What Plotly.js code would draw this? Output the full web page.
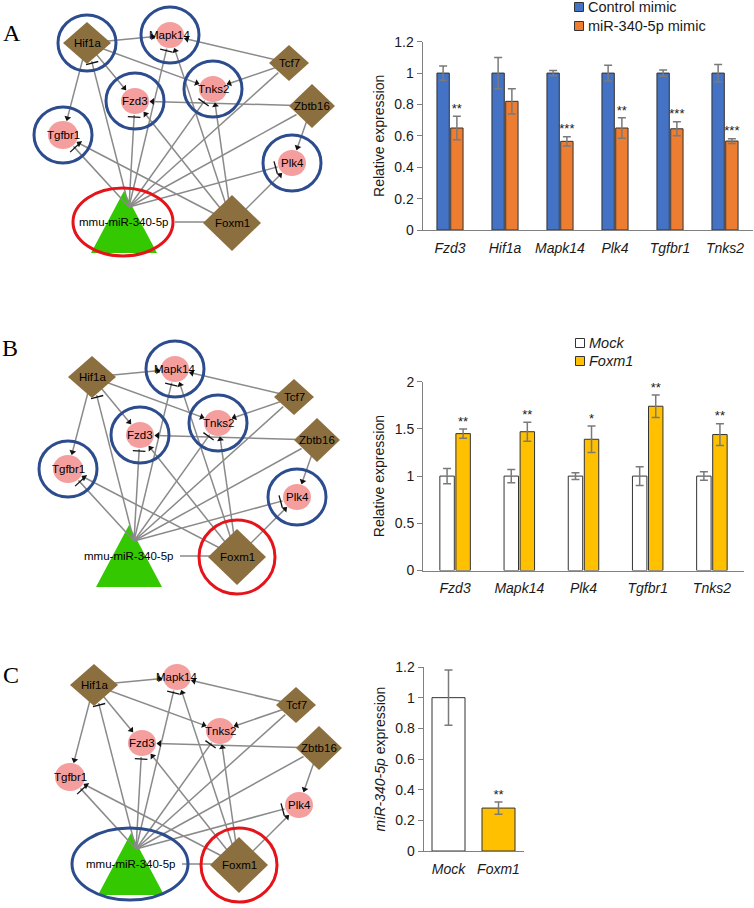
<!DOCTYPE html>
<html><head><meta charset="utf-8">
<script src="https://cdn.plot.ly/plotly-3.0.1.min.js"></script>
<style>html,body{margin:0;padding:0;background:#fff}</style>
</head><body><div id="chart" style="width:754px;height:908px"></div>
<script>
// ===================== DATA =====================
// Panel A bar chart
const genesA = ['Fzd3', 'Hif1a', 'Mapk14', 'Plk4', 'Tgfbr1', 'Tnks2'];
const seriesA = ['Control mimic', 'miR-340-5p mimic'];
const controlMimic = [1, 1, 1, 1, 1, 1];
const controlMimicErr = [0.045, 0.10, 0.017, 0.05, 0.02, 0.055];
const mimic340 = [0.65, 0.82, 0.565, 0.65, 0.645, 0.567];
const mimic340Err = [0.075, 0.08, 0.03, 0.065, 0.045, 0.015];
const sigA = ['**', '', '***', '**', '***', '***'];

// Panel B bar chart
const genesB = ['Fzd3', 'Mapk14', 'Plk4', 'Tgfbr1', 'Tnks2'];
const seriesB = ['Mock', 'Foxm1'];
const mockB = [1, 1, 1, 1, 1];
const mockBErr = [0.08, 0.07, 0.035, 0.10, 0.045];
const foxm1B = [1.45, 1.47, 1.39, 1.74, 1.44];
const foxm1BErr = [0.05, 0.10, 0.14, 0.12, 0.115];
const sigB = ['**', '**', '*', '**', '**'];

// Panel C bar chart
const groupsC = ['Mock', 'Foxm1'];
const mir340C = [1, 0.28];
const mir340CErr = [0.18, 0.04];
const sigC = ['', '**'];

// Network (same graph in panels A, B, C)
const nodeNames = ['Hif1a', 'Mapk14', 'Tcf7', 'Tnks2', 'Zbtb16', 'Fzd3', 'Tgfbr1', 'Plk4', 'mmu-miR-340-5p', 'Foxm1'];
const nodeKinds = ['tf', 'gene', 'tf', 'gene', 'tf', 'gene', 'gene', 'gene', 'mirna', 'tf'];
const edgeFrom = ['Hif1a', 'Hif1a', 'Hif1a', 'Hif1a', 'Tcf7', 'Tcf7', 'Zbtb16', 'Zbtb16',
  'Foxm1', 'Foxm1', 'Foxm1', 'Foxm1', 'Foxm1', 'Foxm1',
  'mmu-miR-340-5p', 'mmu-miR-340-5p', 'mmu-miR-340-5p', 'mmu-miR-340-5p', 'mmu-miR-340-5p', 'mmu-miR-340-5p',
  'mmu-miR-340-5p', 'mmu-miR-340-5p'];
const edgeTo = ['Mapk14', 'Tnks2', 'Fzd3', 'Tgfbr1', 'Mapk14', 'Tnks2', 'Fzd3', 'Plk4',
  'Mapk14', 'Tnks2', 'Fzd3', 'Tgfbr1', 'Plk4', 'mmu-miR-340-5p',
  'Hif1a', 'Mapk14', 'Fzd3', 'Tnks2', 'Tgfbr1', 'Plk4',
  'Tcf7', 'Zbtb16'];
const edgeType = ['arrow', 'arrow', 'arrow', 'arrow', 'arrow', 'arrow', 'arrow', 'arrow',
  'arrow', 'arrow', 'arrow', 'arrow', 'arrow', 'plain',
  'inhibit', 'inhibit', 'inhibit', 'inhibit', 'inhibit', 'inhibit',
  'plain', 'plain'];
const panelLetters = ['A', 'B', 'C'];
const blueRingNodes = [['Hif1a', 'Mapk14', 'Tnks2', 'Fzd3', 'Tgfbr1', 'Plk4'], ['Mapk14', 'Tnks2', 'Fzd3', 'Tgfbr1', 'Plk4'], ['mmu-miR-340-5p']];
const redRingNodes = [['mmu-miR-340-5p'], ['Foxm1'], ['Foxm1']];

// ===================== LAYOUT / STYLE =====================
const FONT = 'Liberation Sans, Arial, sans-serif';
const TXT = '#1a1a1a';
const AXC = '#808080';
// node layout (pixel frame of panel A network)
const nodeLayoutX = [87, 170, 289, 213, 312, 135, 63, 292, 123, 232];
const nodeLayoutY = [43, 35, 63, 89, 106, 101, 135, 163, 222, 223];
const nodeRX = [24, 14, 20, 14, 23, 14, 15, 14, 33, 29];
const nodeRY = [21, 13, 18, 13, 22, 13, 14, 13, 31, 28];
const panelDX = [0, 5, 7], panelDY = [0, 334, 642];
const letterPos = [[12, 33], [10, 348], [11, 675]];
const mirAnchor = [6, -15];

const traces = [], shapes = [], annotations = [];
const ni = n => nodeNames.indexOf(n);

function boundaryDist(k, ux, uy) {
  const a = nodeRX[k], b = nodeRY[k];
  if (nodeKinds[k] === 'gene') return 1 / Math.sqrt((ux / a) ** 2 + (uy / b) ** 2);
  if (nodeKinds[k] === 'tf') return 1 / (Math.abs(ux) / a + Math.abs(uy) / b);
  return 0;
}

for (let p = 0; p < 3; p++) {
  const ox = panelDX[p], oy = panelDY[p];
  const lx = [], ly = [], ax = [], ay = [], aang = [], tx = [], ty = [], tang = [];
  for (let e = 0; e < edgeFrom.length; e++) {
    const s = ni(edgeFrom[e]), t = ni(edgeTo[e]);
    let sx = nodeLayoutX[s] + ox, sy = nodeLayoutY[s] + oy;
    if (nodeKinds[s] === 'mirna') { sx += mirAnchor[0]; sy += mirAnchor[1]; }
    let cx = nodeLayoutX[t] + ox, cy = nodeLayoutY[t] + oy;
    let ex, ey, ux, uy;
    if (nodeKinds[t] === 'mirna') {
      ex = cx + 52; ey = cy; sy = cy;
      ux = -1; uy = 0;
    } else {
      const dx = cx - sx, dy = cy - sy, L = Math.hypot(dx, dy);
      ux = dx / L; uy = dy / L;
      const d = boundaryDist(t, ux, uy) + 1;
      ex = cx - ux * d; ey = cy - uy * d;
    }
    lx.push(sx, ex, null); ly.push(sy, ey, null);
    const ang = Math.atan2(ux, -uy) * 180 / Math.PI;
    if (edgeType[e] === 'arrow') { ax.push(ex - ux * 2.5); ay.push(ey - uy * 2.5); aang.push(ang); }
    if (edgeType[e] === 'inhibit') { tx.push(ex - ux * 2); ty.push(ey - uy * 2); tang.push(ang); }
  }
  traces.push({ type: 'scatter', mode: 'lines', x: lx, y: ly, xaxis: 'x', yaxis: 'y',
    line: { color: '#8a8a8a', width: 1.5 }, hoverinfo: 'skip', showlegend: false });
  traces.push({ type: 'scatter', mode: 'markers', x: ax, y: ay, xaxis: 'x', yaxis: 'y',
    marker: { symbol: 'triangle-up', size: 6, color: '#111', angle: aang, line: { width: 0 } },
    hoverinfo: 'skip', showlegend: false });
  traces.push({ type: 'scatter', mode: 'markers', x: tx, y: ty, xaxis: 'x', yaxis: 'y',
    marker: { symbol: 'line-ew', size: 9, color: '#111', angle: tang, line: { width: 1.3, color: '#111' } },
    hoverinfo: 'skip', showlegend: false });

  // nodes
  nodeNames.forEach((n, k) => {
    const cx = nodeLayoutX[k] + ox, cy = nodeLayoutY[k] + oy, a = nodeRX[k], b = nodeRY[k];
    if (nodeKinds[k] === 'gene') {
      shapes.push({ type: 'circle', xref: 'x', yref: 'y', x0: cx - a, x1: cx + a, y0: cy - b, y1: cy + b,
        fillcolor: '#F59E9E', line: { width: 0 }, layer: 'above' });
    } else if (nodeKinds[k] === 'tf') {
      shapes.push({ type: 'path', xref: 'x', yref: 'y', path: `M${cx - a},${cy} L${cx},${cy - b} L${cx + a},${cy} L${cx},${cy + b} Z`,
        fillcolor: '#8C6F3F', line: { width: 0 }, layer: 'above' });
    } else {
      shapes.push({ type: 'path', xref: 'x', yref: 'y', path: `M${cx + 1},${cy - b} L${cx + a + 1},${cy + b} L${cx - a + 1},${cy + b} Z`,
        fillcolor: '#33C800', line: { width: 0 }, layer: 'below' });
    }
    annotations.push({ xref: 'x', yref: 'y', x: cx, y: cy, text: n, showarrow: false,
      font: { family: FONT, size: 11.5, color: '#000' } });
  });
  // rings
  blueRingNodes[p].concat(redRingNodes[p]).forEach((n, j) => {
    const k = ni(n);
    const isRed = redRingNodes[p].includes(n);
    const cx = nodeLayoutX[k] + ox, cy = nodeLayoutY[k] + oy;
    let rx = 29, ry = 28;
    if (nodeKinds[k] === 'mirna') { rx = isRed ? 50 : 58; ry = isRed ? 34 : 36; }
    if (n === 'Foxm1') { rx = 38; ry = 37; }
    shapes.push({ type: 'circle', xref: 'x', yref: 'y', x0: cx - rx, x1: cx + rx, y0: cy - ry, y1: cy + ry,
      line: { color: isRed ? '#E5141B' : '#2C4C8E', width: 3 }, fillcolor: 'rgba(0,0,0,0)', layer: 'above' });
  });
  annotations.push({ xref: 'x', yref: 'y', x: letterPos[p][0], y: letterPos[p][1], text: panelLetters[p], showarrow: false,
    font: { family: 'Liberation Serif, Times New Roman, serif', size: 24, color: '#000' } });
}

// ===================== BAR CHARTS =====================
const idxA = genesA.map((_, i) => i);
const idxB = genesB.map((_, i) => i);
const idxC = groupsC.map((_, i) => i);
const errStyle = arr => ({ type: 'data', array: arr, visible: true, color: '#7a7a7a', thickness: 1.5, width: 4 });
const outline = { color: '#333', width: 1 };
const starFont = { family: FONT, size: 13, color: TXT };

traces.push({ type: 'bar', name: seriesA[0], x: idxA, y: controlMimic, error_y: errStyle(controlMimicErr),
  marker: { color: '#4472C4', line: outline }, xaxis: 'x2', yaxis: 'y2', showlegend: false });
traces.push({ type: 'bar', name: seriesA[1], x: idxA, y: mimic340, error_y: errStyle(mimic340Err),
  marker: { color: '#ED7D31', line: outline }, xaxis: 'x2', yaxis: 'y2', showlegend: false });
traces.push({ type: 'scatter', mode: 'text', x: idxA.map(i => i + 0.125), y: mimic340.map((v, i) => v + mimic340Err[i]),
  text: sigA, textposition: 'top center', textfont: starFont, xaxis: 'x2', yaxis: 'y2',
  cliponaxis: false, showlegend: false, hoverinfo: 'skip' });

traces.push({ type: 'bar', name: seriesB[0], x: idxB, y: mockB, error_y: errStyle(mockBErr),
  marker: { color: '#FFFFFF', line: outline }, xaxis: 'x3', yaxis: 'y3', showlegend: false });
traces.push({ type: 'bar', name: seriesB[1], x: idxB, y: foxm1B, error_y: errStyle(foxm1BErr),
  marker: { color: '#FFC000', line: outline }, xaxis: 'x3', yaxis: 'y3', showlegend: false });
traces.push({ type: 'scatter', mode: 'text', x: idxB.map(i => i + 0.125), y: foxm1B.map((v, i) => v + foxm1BErr[i]),
  text: sigB, textposition: 'top center', textfont: starFont, xaxis: 'x3', yaxis: 'y3',
  cliponaxis: false, showlegend: false, hoverinfo: 'skip' });

traces.push({ type: 'bar', x: idxC, y: mir340C, width: 0.66, error_y: errStyle(mir340CErr),
  marker: { color: ['#FFFFFF', '#FFC000'], line: outline }, xaxis: 'x4', yaxis: 'y4', showlegend: false });
traces.push({ type: 'scatter', mode: 'text', x: idxC, y: mir340C.map((v, i) => v + mir340CErr[i]),
  text: sigC, textposition: 'top center', textfont: starFont, xaxis: 'x4', yaxis: 'y4',
  cliponaxis: false, showlegend: false, hoverinfo: 'skip' });

// manual legends (in page-pixel frame of the overlay axis)
const legendItems = [
  { name: seriesA[0], color: '#4472C4', x: 579, y: 7, italic: false },
  { name: seriesA[1], color: '#ED7D31', x: 579, y: 26, italic: false },
  { name: seriesB[0], color: '#FFFFFF', x: 580, y: 343, italic: true },
  { name: seriesB[1], color: '#FFC000', x: 580, y: 361, italic: true }
];
legendItems.forEach(it => {
  shapes.push({ type: 'rect', xref: 'x', yref: 'y', x0: it.x - 4.5, x1: it.x + 4.5, y0: it.y - 4.5, y1: it.y + 4.5,
    fillcolor: it.color, line: { color: '#333', width: 1 }, layer: 'above' });
  annotations.push({ xref: 'x', yref: 'y', x: it.x + 7, y: it.y, xanchor: 'left', text: it.italic ? '<i>' + it.name + '</i>' : it.name,
    showarrow: false, font: { family: FONT, size: 14.5, color: TXT } });
});

const W = 754, H = 908;
const px = v => v / W, py = v => 1 - v / H;
const yAx = (range, dtick, top, bottom, title) => ({
  domain: [py(bottom), py(top)], range: range, dtick: dtick, tick0: 0, showgrid: false, zeroline: false,
  showline: true, linecolor: AXC, linewidth: 1, ticks: 'outside', ticklen: 5, tickcolor: AXC,
  tickfont: { family: FONT, size: 14, color: TXT }, automargin: false, fixedrange: true,
  title: { text: title, font: { family: FONT, size: 14, color: TXT }, standoff: 6 }
});
const xAx = (range, left, right, vals, texts) => ({
  domain: [px(left), px(right)], range: range, tickmode: 'array', tickvals: vals, ticktext: texts,
  showgrid: false, zeroline: false, showline: true, linecolor: AXC, linewidth: 1, ticks: '',
  ticklabelstandoff: 5,
  tickfont: { family: FONT, size: 14, color: TXT, style: 'italic' }, automargin: false, fixedrange: true
});

const layout = {
  width: W, height: H, margin: { l: 0, r: 0, t: 0, b: 0 },
  paper_bgcolor: '#fff', plot_bgcolor: 'rgba(0,0,0,0)', showlegend: false,
  barmode: 'group', bargap: 0.5, bargroupgap: 0.1,
  xaxis: { domain: [0, 1], range: [0, W], visible: false, fixedrange: true },
  yaxis: { domain: [0, 1], range: [H, 0], visible: false, fixedrange: true },
  xaxis2: Object.assign(xAx([-0.5, 5.5], 422.5, 752.5, idxA, genesA), { anchor: 'y2' }),
  yaxis2: Object.assign(yAx([0, 1.2], 0.2, 41.7, 230, 'Relative expression'), { anchor: 'x2' }),
  xaxis3: Object.assign(xAx([-0.5, 4.5], 423, 744, idxB, genesB), { anchor: 'y3' }),
  yaxis3: Object.assign(yAx([0, 2], 0.5, 381.7, 570.5, 'Relative expression'), { anchor: 'x3' }),
  xaxis4: Object.assign(xAx([-0.5, 1.5], 423.5, 523.5, idxC, groupsC), { anchor: 'y4' }),
  yaxis4: Object.assign(yAx([0, 1.2], 0.2, 667, 851, '<i>miR-340-5p</i> expression'), { anchor: 'x4' }),
  shapes: shapes, annotations: annotations
};

Plotly.newPlot('chart', traces, layout, { displayModeBar: false, staticPlot: true });
</script></body></html>
